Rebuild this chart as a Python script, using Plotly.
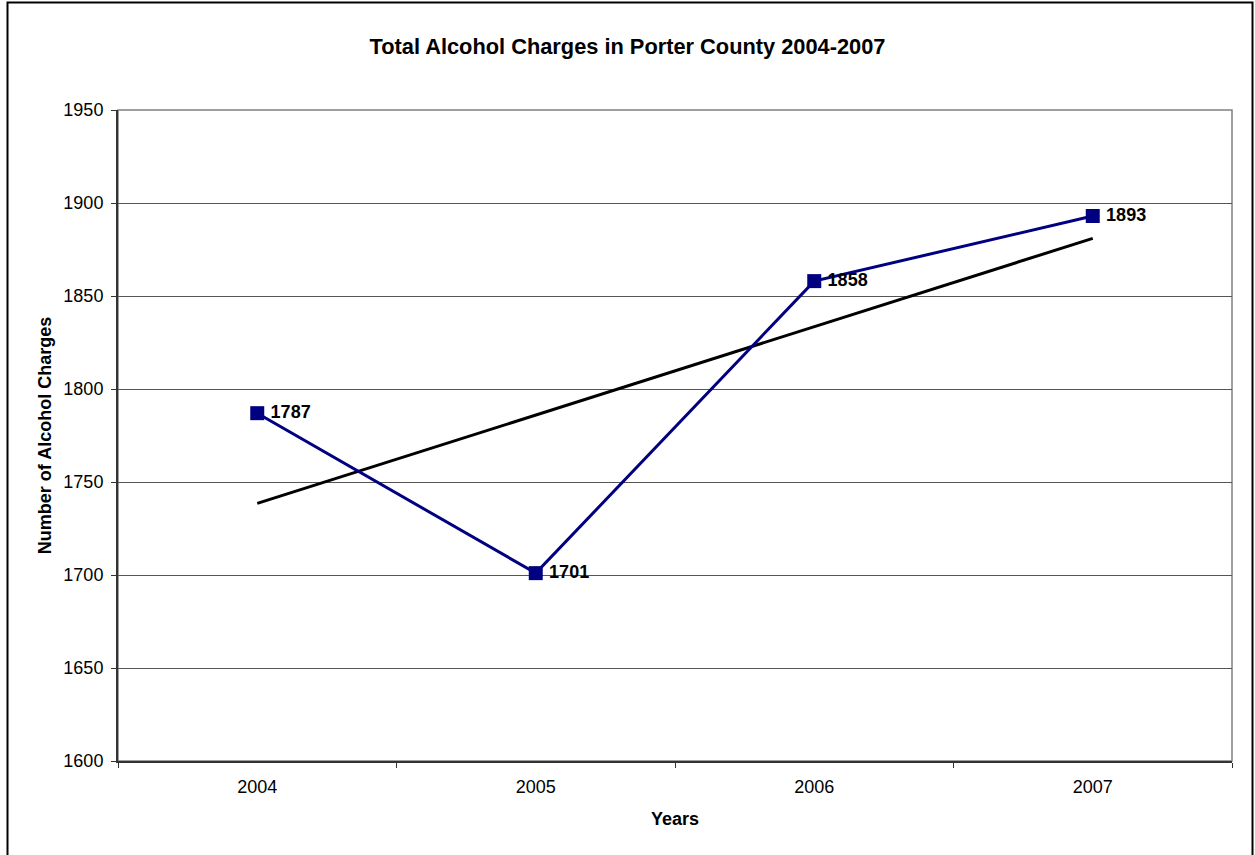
import numpy as np
import plotly.graph_objects as go

years = ["2004", "2005", "2006", "2007"]
charges = [1787, 1701, 1858, 1893]

title_text = "Total Alcohol Charges in Porter County 2004-2007"
x_title = "Years"
y_title = "Number of Alcohol Charges"
y_ticks = [1600, 1650, 1700, 1750, 1800, 1850, 1900, 1950]

# linear trendline (least squares) as in the original chart
xi = np.arange(len(years))
slope, intercept = np.polyfit(xi, charges, 1)
trend = slope * xi + intercept

FONT = "Liberation Sans, Arial, sans-serif"

fig = go.Figure()
fig.add_trace(go.Scatter(
    x=years, y=trend, mode="lines",
    line=dict(color="black", width=3),
    showlegend=False,
))
fig.add_trace(go.Scatter(
    x=years, y=charges, mode="lines+markers+text",
    line=dict(color="#000080", width=3),
    marker=dict(symbol="square", size=14, color="#000080"),
    text=["\u2009" + str(v) for v in charges], textposition="middle right",
    textfont=dict(family=FONT, size=18, color="black", weight="bold"),
    showlegend=False, cliponaxis=False,
))

W, H = 1255, 855
L, R, T, B = 118, 1232, 110, 761
pw, ph = R - L, B - T

def px(x):
    return (x - L) / pw

def py(y):
    return (B - y) / ph

fig.update_layout(
    width=W, height=H,
    margin=dict(l=L, r=W - R, t=T, b=H - B),
    paper_bgcolor="white", plot_bgcolor="white",
    font=dict(family=FONT, color="black"),
    title=dict(text="<b>" + title_text + "</b>", x=0.5, xref="container", xanchor="center",
               y=1 - 46 / H, yref="container", yanchor="middle",
               font=dict(size=21.8, family=FONT, color="black")),
    xaxis=dict(type="category", range=[-0.5, 3.5], tickson="boundaries",
               ticks="outside", ticklen=5, tickcolor="#333333", tickwidth=1,
               showline=True, linecolor="#333333", linewidth=2,
               showgrid=False, zeroline=False, ticklabelstandoff=8,
               tickfont=dict(size=18, family=FONT),
               title=dict(text="<b>" + x_title + "</b>", font=dict(size=18, family=FONT), standoff=17)),
    yaxis=dict(range=[1600, 1950], tickvals=y_ticks,
               ticks="outside", ticklen=5, tickcolor="#333333", tickwidth=1,
               showline=True, linecolor="#333333", linewidth=2,
               showgrid=True, gridcolor="#555555", gridwidth=1, zeroline=False,
               ticklabelstandoff=4,
               tickfont=dict(size=18, family=FONT),
               title=dict(text="<b>" + y_title + "</b>", font=dict(size=18, family=FONT), standoff=7)),
    shapes=[
        dict(type="rect", xref="paper", yref="paper", x0=0, x1=1, y0=0, y1=1,
             line=dict(color="#808080", width=1.5), layer="below"),
        dict(type="rect", xref="paper", yref="paper",
             x0=px(7.5), x1=px(1252.5), y0=py(860), y1=py(2.5),
             line=dict(color="black", width=2), layer="below"),
    ],
)

fig.write_html("out.html")
